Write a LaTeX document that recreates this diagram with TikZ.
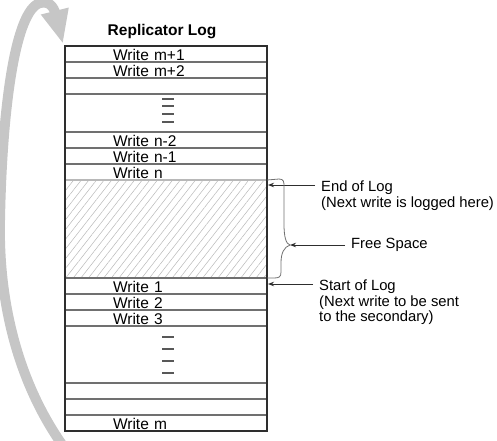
\documentclass[tikz,border=0pt]{standalone}
\usepackage{fontspec}
\setmainfont{Liberation Sans}
\usetikzlibrary{arrows.meta,positioning,patterns.meta}
\definecolor{rule}{HTML}{707070}
\definecolor{frame}{HTML}{2E2E2E}
\definecolor{hatch}{HTML}{B8B8B8}
\definecolor{loop}{HTML}{C6C6C6}

\begin{document}
\begin{tikzpicture}[x=1pt,y=-1pt,node distance=0pt,
    font=\fontsize{15.5}{16}\selectfont,
    entry/.style={draw=rule,line width=1.1pt,minimum height=16pt,text width=106pt,
                  inner xsep=48pt,inner ysep=0pt,outer sep=0pt,align=left,
                  text height=13.5pt,text depth=0pt},
    freezone/.style={entry,draw=hatch,minimum height=98pt,
                     pattern={Lines[angle=52,distance=6pt,line width=0.5pt]},pattern color=hatch},
    tick/.style={draw=frame!80,line width=1.1pt},
    note/.style={align=left,anchor=north west,inner xsep=6pt,inner ysep=0pt,
                 font=\fontsize{14.8}{15.5}\selectfont},
    pointer/.style={-{Stealth[length=6pt,width=4.5pt]},draw=frame,line width=0.9pt},
    loopback/.style={draw=loop,line width=10pt,-{Triangle[length=34pt,width=26pt]}}]
    \useasboundingbox (0,0) rectangle (497,440);
    \clip (0,0) rectangle (497,440);

    % wrap-around arrow
    \draw[loopback] (66,450) .. controls (22,390) and (-2,310) .. (0,220)
        .. controls (2,110) and (15,10) .. (40,3) .. controls (52,0) and (55,12) .. (63,44);

    % the log
    \node[entry] (m1) at (166,54) {Write m+1};
    \node[entry,below=of m1] (m2) {Write m+2};
    \node[entry,below=of m2] (b1) {};
    \node[entry,below=of b1,minimum height=38pt] (dots1) {};
    \node[entry,below=of dots1] (n2) {Write n-2};
    \node[entry,below=of n2] (n1) {Write n-1};
    \node[entry,below=of n1] (n0) {Write n};
    \node[freezone,below=of n0] (free) {};
    \node[entry,below=of free] (w1) {Write 1};
    \node[entry,below=of w1] (w2) {Write 2};
    \node[entry,below=of w2] (w3) {Write 3};
    \node[entry,below=of w3,minimum height=57pt] (dots2) {};
    \node[entry,below=of dots2] (b2) {};
    \node[entry,below=of b2] (b3) {};
    \node[entry,below=of b3] (mm) {Write m};
    \draw[frame,line width=2pt] (m1.north west) rectangle (mm.south east);
    \foreach \d in {99,106,114,122} \draw[tick] (162,\d) -- (174,\d);
    \foreach \d in {337,349,361,373} \draw[tick] (162,\d) -- (174,\d);
    \node[font=\bfseries\fontsize{15.5}{16}\selectfont,above=3.5pt of m1,xshift=-4pt] (title) {Replicator Log};

    % notes on the right
    \coordinate (endtip) at (268,185);
    \coordinate (bracetip) at (290,245);
    \coordinate (starttip) at (268,284);
    \node[note] (endlog) at (315,181) {End of Log\\(Next write is logged here)};
    \node[note,anchor=west] (freelbl) at (345,245) {Free Space};
    \node[note] (startlog) at (313,280) {Start of Log\\(Next write to be sent\\to the secondary)};
    \draw[pointer] (endlog.west |- endtip) -- (endtip);
    \draw[pointer] (freelbl.west) -- (bracetip);
    \draw[pointer] (startlog.west |- starttip) -- (starttip);
    \draw[draw=rule,line width=0.8pt] (free.north east) -- (279,179)
        .. controls (284,179) and (284,182) .. (284,187) -- (284,224)
        .. controls (284,237) and (286,244) .. (bracetip)
        .. controls (284,247) and (281,253) .. (281,263) -- (281,272)
        .. controls (281,277) and (279,278) .. (274,278) -- (free.south east);
\end{tikzpicture}
\end{document}
